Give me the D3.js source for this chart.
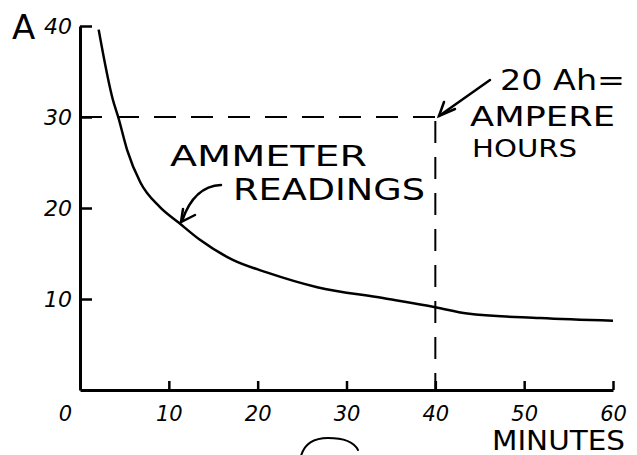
<!DOCTYPE html>
<html>
<head>
<meta charset="utf-8">
<script src="https://cdn.jsdelivr.net/npm/d3@7"></script>
<style>
  body { margin: 0; background: #fff; }
  svg { display: block; }
  text { font-family: "DejaVu Sans", sans-serif; fill: #000; }
</style>
</head>
<body>
<svg id="chart" width="637" height="455"></svg>
<script>
// data
var minutes = [2.1, 3.7, 4.3, 5.3, 6.8, 9, 11.1, 13.5, 17.2, 21.1, 26.7, 34.1, 40, 43.6, 51.8, 60];
var amps = [39.6, 31.9, 30, 26.4, 22.8, 20.1, 18.4, 16.5, 14.3, 12.9, 11.3, 10.1, 9.1, 8.4, 7.9, 7.6];
var xTicks = [0, 10, 20, 30, 40, 50, 60];
var yTicks = [10, 20, 30, 40];
var markTime = 40;
var markAmps = 30;

var svg = d3.select("#chart");

var x = d3.scaleLinear().domain([0, 60]).range([80, 613]);
var y = d3.scaleLinear().domain([0, 40]).range([390, 26]);

// y axis, ticks pointing inward
var yAxis = svg.append("g")
    .attr("transform", "translate(" + x(0) + ",0)")
    .call(d3.axisLeft(y).tickValues(yTicks).tickSizeInner(-12).tickSizeOuter(0).tickPadding(8));
yAxis.select(".domain").attr("stroke-width", 3);
yAxis.selectAll(".tick line").attr("stroke-width", 2.5);
yAxis.selectAll(".tick text")
    .attr("font-family", "DejaVu Sans, sans-serif")
    .attr("font-size", 22)
    .attr("font-style", "italic")
    .attr("dy", "0.36em");

// x axis, ticks pointing up
var xAxis = svg.append("g")
    .attr("transform", "translate(0," + y(0) + ")")
    .call(d3.axisBottom(x).tickValues(xTicks).tickSizeInner(-9).tickSizeOuter(0));
xAxis.select(".domain").attr("stroke-width", 3);
xAxis.selectAll(".tick line").attr("stroke-width", 2.5)
    .attr("display", function (d) { return d === 0 ? "none" : null; });
xAxis.selectAll(".tick text")
    .attr("font-family", "DejaVu Sans, sans-serif")
    .attr("font-size", 21)
    .attr("font-style", "italic")
    .attr("y", 31)
    .attr("dy", 0)
    .attr("dx", function (d) { return d === 0 ? -15 : 0; });

// dashed guide lines for the 20 Ah mark
svg.append("line")
    .attr("x1", x(0)).attr("x2", x(markTime))
    .attr("y1", y(markAmps)).attr("y2", y(markAmps))
    .attr("stroke", "#000").attr("stroke-width", 2)
    .attr("stroke-dasharray", "22,15");
svg.append("line")
    .attr("x1", x(markTime)).attr("x2", x(markTime))
    .attr("y1", y(markAmps) + 4).attr("y2", y(0))
    .attr("stroke", "#000").attr("stroke-width", 2)
    .attr("stroke-dasharray", "22,14");

// the ammeter curve
var line = d3.line()
    .x(function (d, i) { return x(minutes[i]); })
    .y(function (d) { return y(d); })
    .curve(d3.curveMonotoneX);
svg.append("path")
    .attr("d", line(amps))
    .attr("fill", "none")
    .attr("stroke", "#000")
    .attr("stroke-width", 2.5);

// labels
svg.append("text").attr("x", 12).attr("y", 39)
    .attr("font-size", 34).text("A");

var notes = [
    { t: "AMMETER", x: 170, y: 166, w: 197, s: 29 },
    { t: "READINGS", x: 233, y: 200, w: 192, s: 31 },
    { t: "20 Ah=", x: 500, y: 90, w: 125, s: 28 },
    { t: "AMPERE", x: 470, y: 126, w: 145, s: 27 },
    { t: "HOURS", x: 472, y: 157, w: 105, s: 25 },
    { t: "MINUTES", x: 492, y: 450, w: 133, s: 26 }
];
svg.selectAll("text.note").data(notes).enter().append("text")
    .attr("class", "note")
    .attr("x", function (d) { return d.x; })
    .attr("y", function (d) { return d.y; })
    .attr("font-size", function (d) { return d.s; })
    .attr("textLength", function (d) { return d.w; })
    .attr("lengthAdjust", "spacingAndGlyphs")
    .text(function (d) { return d.t; });

// arrows
var ink = function (p) {
    return svg.append("path").attr("d", p).attr("fill", "none")
        .attr("stroke", "#000").attr("stroke-width", 2.5)
        .attr("stroke-linecap", "round");
};
ink("M221,185 Q194,186 182,221");
ink("M183,209 L181,222 L195,215");
ink("M490,80 L439,116");
ink("M444,102 L439,116 L455,109");

// stray circle at the bottom edge of the scan
ink("M301,456 Q306,438 328,438 Q352,438 358,450").attr("stroke-width", 2);
</script>
</body>
</html>
